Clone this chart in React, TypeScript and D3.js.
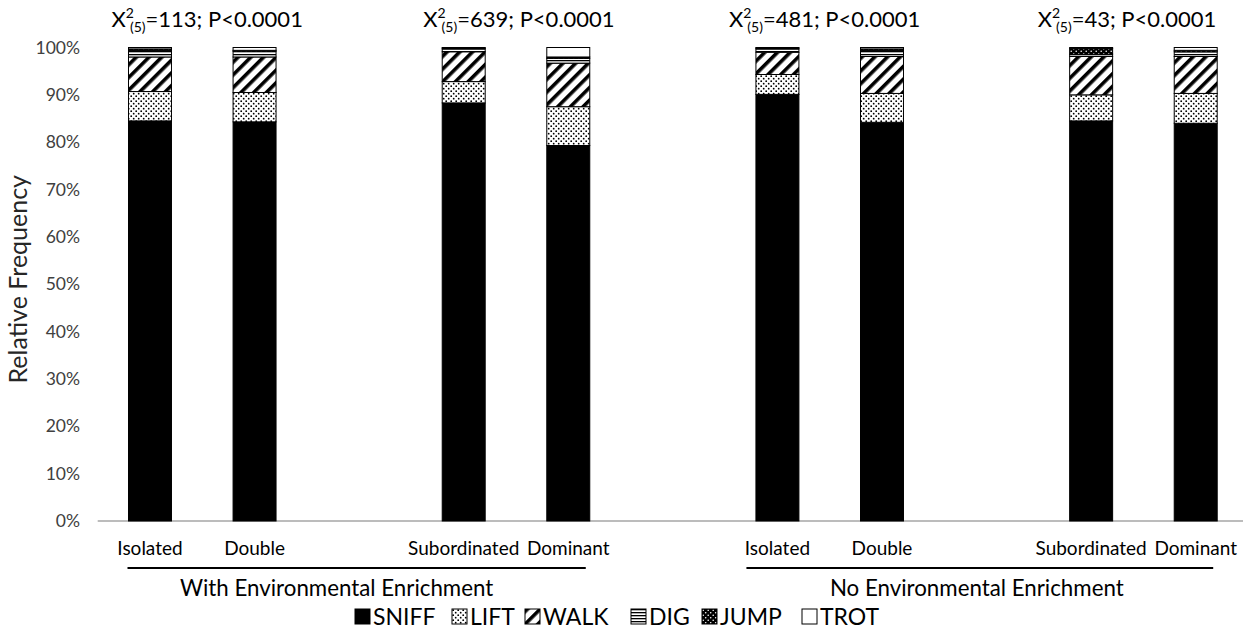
import React from "react";
import * as d3 from "d3";

// bar slots, blanks included so the gaps between pairs fall out of the band scale
const slots = ["WEE-Isolated", "WEE-Double", "gap1", "WEE-Subordinated", "WEE-Dominant", "gap2",
  "NEE-Isolated", "NEE-Double", "gap3", "NEE-Subordinated", "NEE-Dominant"];
const bars = ["WEE-Isolated", "WEE-Double", "WEE-Subordinated", "WEE-Dominant",
  "NEE-Isolated", "NEE-Double", "NEE-Subordinated", "NEE-Dominant"];
const barLabels = ["Isolated", "Double", "Subordinated", "Dominant", "Isolated", "Double", "Subordinated", "Dominant"];

const behaviours = ["SNIFF", "LIFT", "WALK", "DIG", "JUMP", "TROT"];
const sniff = [84.5, 84.3, 88.3, 79.3, 90.1, 84.2, 84.5, 84.0];
const lift = [6.2, 6.2, 4.5, 8.2, 4.2, 6.1, 5.5, 6.3];
const walk = [7.3, 7.5, 6.3, 9.2, 4.7, 7.8, 8.1, 7.8];
const dig = [1.4, 1.2, 0.6, 1.0, 0.7, 1.3, 0.5, 1.0];
const jump = [0.3, 0.2, 0.2, 0.3, 0.2, 0.3, 1.2, 0.3];
const trot = [0.3, 0.6, 0.1, 2.0, 0.1, 0.3, 0.2, 0.6];

const yTicks = [0, 10, 20, 30, 40, 50, 60, 70, 80, 90, 100];

const groupLabels = ["With Environmental Enrichment", "No Environmental Enrichment"];
const groupFirst = ["WEE-Isolated", "NEE-Isolated"];
const groupLast = ["WEE-Dominant", "NEE-Dominant"];

const chiStats = ["113", "639", "481", "43"];
const chiAt = ["WEE-Isolated", "WEE-Subordinated", "NEE-Isolated", "NEE-Subordinated"];

const W = 1243, H = 631;
const font = "Lato, 'Open Sans', sans-serif";
const fills: Record<string, string> = {
  SNIFF: "#000", LIFT: "url(#pLift)", WALK: "url(#pWalk)", DIG: "url(#pDig)", JUMP: "url(#pJump)", TROT: "#fff",
};

export default function App() {
  const x = d3.scaleBand().domain(slots).range([97.7, 1248]).paddingInner(0.589).paddingOuter(0.2945);
  const y = d3.scaleLinear().domain([0, 100]).range([521, 47.5]);

  const rows = bars.map((b, i) => ({
    bar: b, SNIFF: sniff[i], LIFT: lift[i], WALK: walk[i], DIG: dig[i], JUMP: jump[i], TROT: trot[i],
  }));
  const series = d3.stack<any>().keys(behaviours)(rows);
  const bw = x.bandwidth();

  // hand placed like the original text boxes
  const chiShift = [-17, -19, -27, -32];
  const bracketPad = [1, 9.5];
  const groupShift = [-20, -3];
  const legendX = [355, 452, 525, 631, 702, 802];

  return (
    <svg width={W} height={H} style={{ position: "absolute", left: 0, top: 0, background: "#fff" }} fontFamily={font}>
      <defs>
        <pattern id="pLift" patternUnits="userSpaceOnUse" width="5" height="5">
          <rect width="5" height="5" fill="#fff" />
          <circle cx="1.2" cy="1.2" r="0.9" fill="#000" />
          <circle cx="3.7" cy="3.7" r="0.9" fill="#000" />
        </pattern>
        <pattern id="pWalk" patternUnits="userSpaceOnUse" width="9" height="9" patternTransform="rotate(45)">
          <rect width="9" height="9" fill="#fff" />
          <rect width="3.6" height="9" fill="#000" />
        </pattern>
        <pattern id="pDig" patternUnits="userSpaceOnUse" width="4" height="3">
          <rect width="4" height="3" fill="#fff" />
          <rect width="4" height="1.3" fill="#000" />
        </pattern>
        <pattern id="pJump" patternUnits="userSpaceOnUse" width="5" height="5">
          <rect width="5" height="5" fill="#000" />
          <circle cx="1.2" cy="1.2" r="0.8" fill="#fff" />
          <circle cx="3.7" cy="3.7" r="0.8" fill="#fff" />
        </pattern>
      </defs>

      {/* y tick labels */}
      {yTicks.map((t) => (
        <text key={t} x={80} y={y(t)} dy="0.35em" textAnchor="end" fontSize={17.5} fill="#404040">{t}%</text>
      ))}
      <text transform={`translate(27,${y(50) - 5}) rotate(-90)`} textAnchor="middle" fontSize={25} fill="#262626">Relative Frequency</text>

      {/* x axis */}
      <line x1={97.7} x2={W} y1={y(0)} y2={y(0)} stroke="#a6a6a6" strokeWidth={1.5} />

      {/* stacked bars */}
      {series.map((s) => (
        <g key={s.key}>
          {s.map((d: any, i: number) => (
            <rect key={i} x={x(bars[i])} width={bw} y={y(d[1])} height={y(d[0]) - y(d[1])}
              fill={fills[s.key]} stroke="#000" strokeWidth={1} />
          ))}
        </g>
      ))}

      {/* bar labels */}
      {bars.map((b, i) => (
        <text key={b} x={(x(b) as number) + bw / 2} y={555} textAnchor="middle" fontSize={19} fill="#000">{barLabels[i]}</text>
      ))}

      {/* group brackets */}
      {groupLabels.map((g, i) => {
        const x1 = (x(groupFirst[i]) as number) - bracketPad[i];
        const x2 = (x(groupLast[i]) as number) + bw - 4;
        return (
          <g key={g}>
            <line x1={x1} x2={x2} y1={568} y2={568} stroke="#000" strokeWidth={2} />
            <text x={(x1 + x2) / 2 + groupShift[i]} y={596} textAnchor="middle" fontSize={22.3} fill="#000">{g}</text>
          </g>
        );
      })}

      {/* chi-square annotations */}
      {chiStats.map((s, i) => (
        <text key={s} x={(x(chiAt[i]) as number) + chiShift[i]} y={27} fontSize={22} fill="#000">
          X<tspan fontSize={14} dy={-9}>2</tspan>
          <tspan fontSize={14} dx={-4} dy={14}>(5)</tspan>
          <tspan dy={-5}>={s}; P&lt;0.0001</tspan>
        </text>
      ))}

      {/* legend */}
      {behaviours.map((b, i) => (
        <g key={b} transform={`translate(${legendX[i]},${609})`}>
          <rect width={15} height={15} fill={fills[b]} stroke="#000" strokeWidth={1} />
          <text x={18} y={15.5} fontSize={23} fill="#000">{b}</text>
        </g>
      ))}
    </svg>
  );
}
